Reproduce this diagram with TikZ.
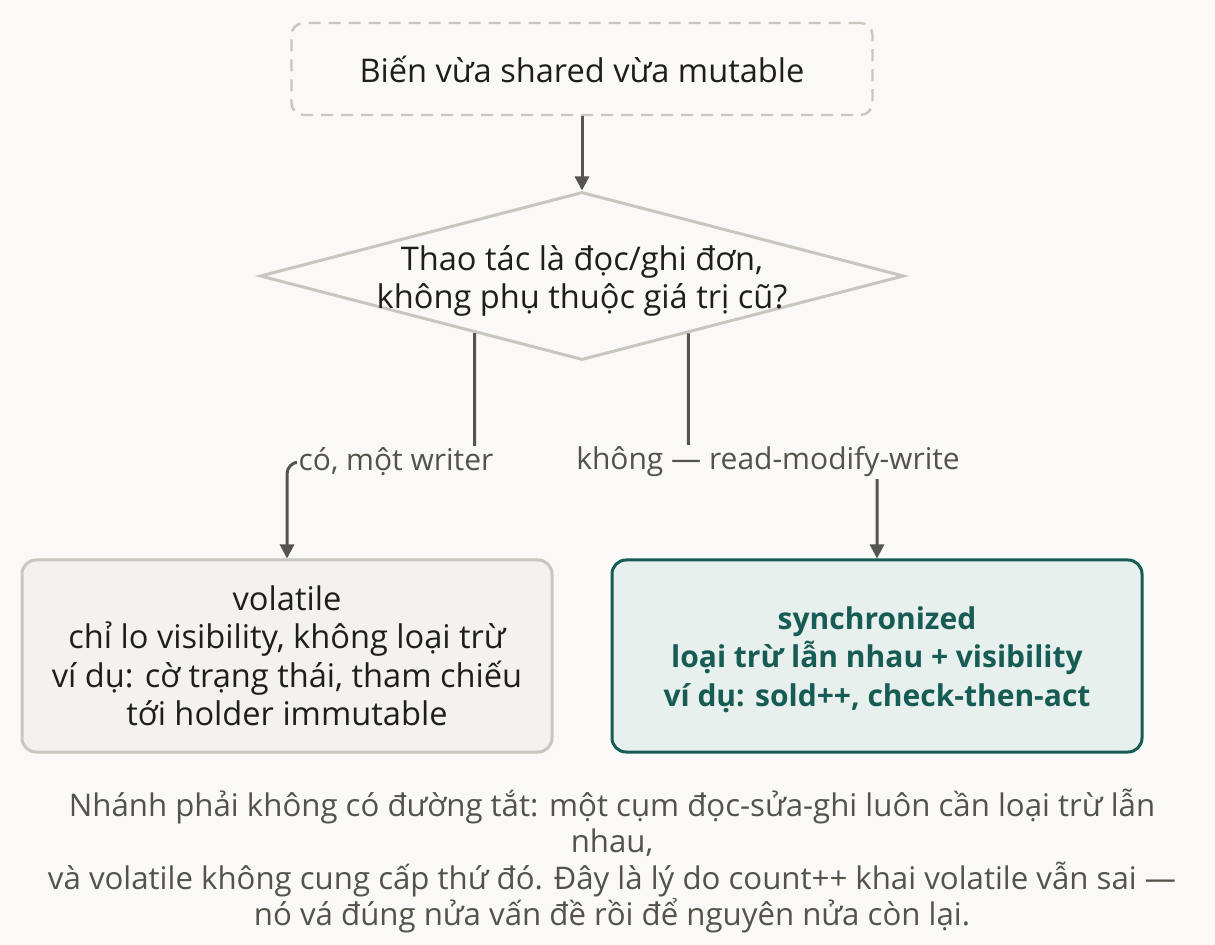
\documentclass[tikz,border=0pt]{standalone}
\usepackage{fontspec}
\setmainfont{Open Sans}
\usetikzlibrary{shapes.geometric,calc,arrows.meta}
\definecolor{bg}{HTML}{FAF9F7}
\definecolor{graybd}{HTML}{C9C6BF}
\definecolor{arrowc}{HTML}{55544E}
\definecolor{labc}{HTML}{55524B}
\definecolor{txt}{HTML}{1E1E1C}
\definecolor{lfill}{HTML}{F3F2EF}
\definecolor{rfill}{HTML}{E8F0EE}
\definecolor{teal}{HTML}{175C54}
\begin{document}
\begin{tikzpicture}[x=0.5pt,y=-0.5pt,
  arr/.style={draw=arrowc,line width=1.5pt,-{Triangle[length=7pt,width=7pt]},rounded corners=6pt},
  mainfont/.style={font=\fontsize{16.3}{19.25}\selectfont,text=txt},
  lab/.style={font=\fontsize{15}{17}\selectfont,text=labc,fill=bg,inner sep=1pt},
  result/.style={rounded corners=7pt,line width=1.5pt,minimum width=265pt,minimum height=96pt,align=center,inner sep=0pt}]
\useasboundingbox[fill=bg] (0,0) rectangle (1215,945);
\node[mainfont,draw=graybd,dashed,dash pattern=on 6pt off 4pt,line width=1.2pt,rounded corners=6pt,minimum width=290.5pt,minimum height=46pt,inner sep=0pt] (top) at (582,69) {Biến vừa shared vừa mutable};
\node[shape=diamond,draw=graybd,line width=1.5pt,minimum width=322pt,minimum height=84pt,inner sep=0pt] (d) at (582,276) {};
\node[mainfont,align=center,inner sep=0pt] (dt) at (582,281) {Thao tác là đọc/ghi đơn,\\không phụ thuộc giá trị cũ?};
\node[result,mainfont,draw=graybd,fill=lfill] (vol) at (287,656) {volatile\\chỉ lo visibility, không loại trừ\\ví dụ: cờ trạng thái, tham chiếu\\tới holder immutable};
\node[result,font=\fontsize{15}{19.25}\selectfont\bfseries,text=teal,draw=teal,fill=rfill] (syn) at (877,656) {\rule{0pt}{15pt}synchronized\\loại trừ lẫn nhau + visibility\\ví dụ: sold++, check-then-act};
\coordinate (yl) at (0,462);
\coordinate (p1) at ($(d.west)!0.668!(d.south)$);
\coordinate (p2) at ($(d.south)!0.329!(d.east)$);
\draw[arr] (top.south) -- (d.north);
\draw[arr] (p1) -- (p1 |- yl) -| (vol.north);
\draw[arr] (p2) -- (p2 |- yl) -| (syn.north);
\node[lab] (l1) at (396,462) {có, một writer};
\node[lab] (l2) at (768,462) {không — read-modify-write};
\node[font=\fontsize{15.6}{18.3}\selectfont,text=labc,align=center] (cap) at (612,861) {Nhánh phải không có đường tắt: một cụm đọc-sửa-ghi luôn cần loại trừ lẫn\\nhau,\\và volatile không cung cấp thứ đó. Đây là lý do count++ khai volatile vẫn sai —\\nó vá đúng nửa vấn đề rồi để nguyên nửa còn lại.};
\end{tikzpicture}
\end{document}
